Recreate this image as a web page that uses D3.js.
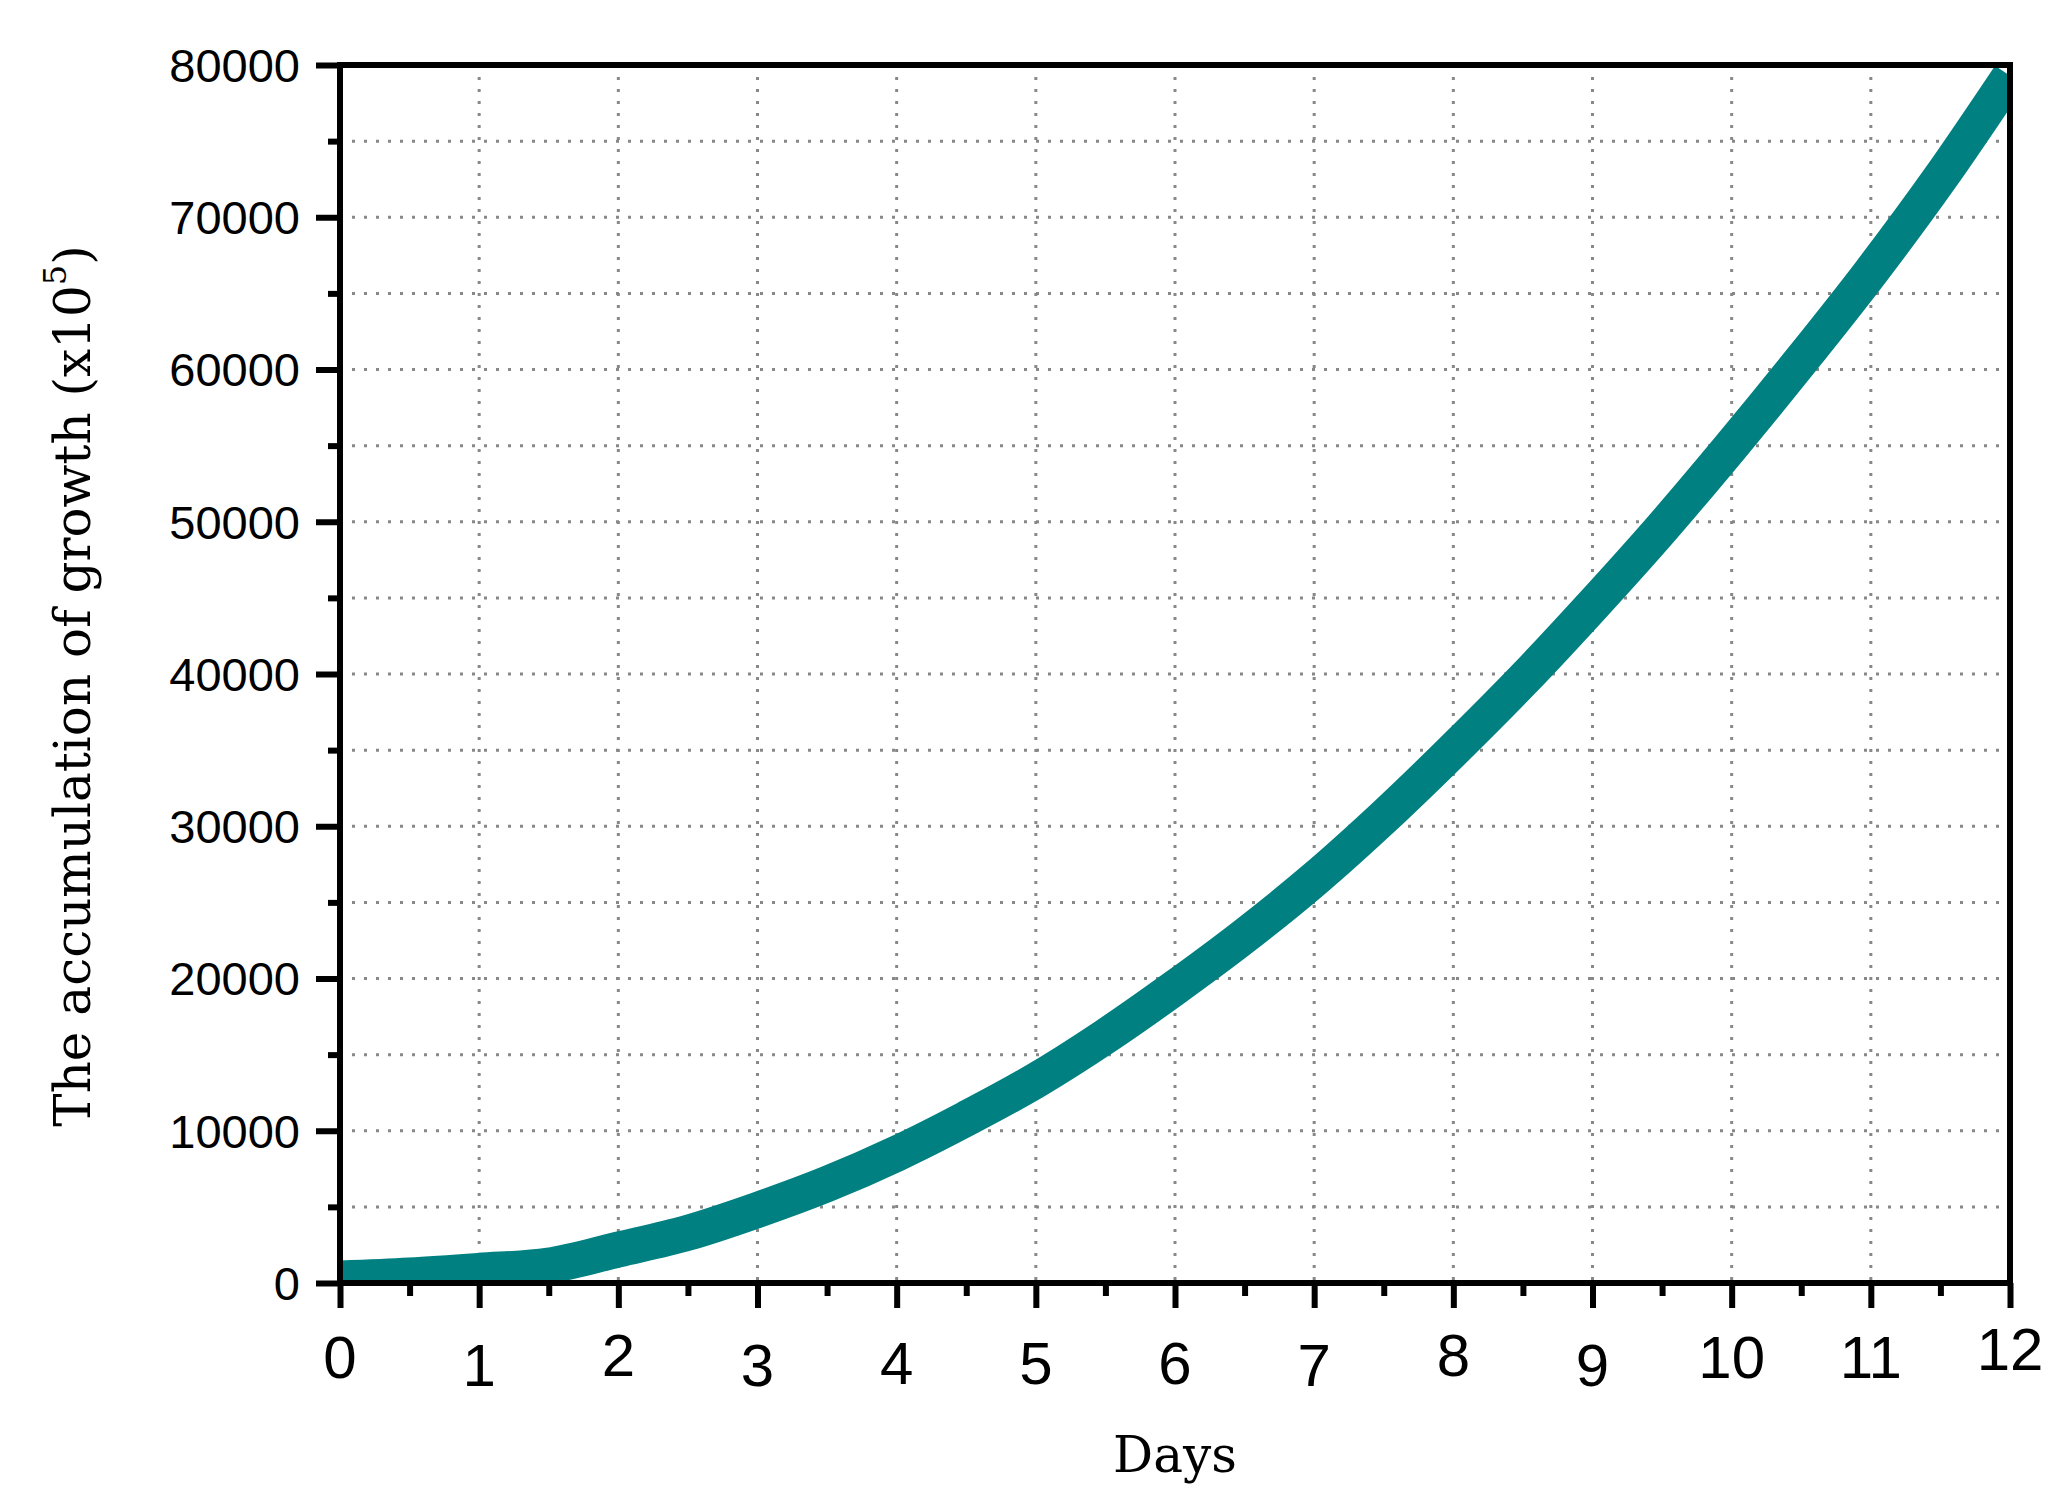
<!DOCTYPE html>
<html><head><meta charset="utf-8">
<script src="https://cdn.jsdelivr.net/npm/d3@7"></script>
<style>body{margin:0;background:#fff}</style></head>
<body><svg id="c" width="2057" height="1511"></svg>
<script>
const days = [0,0.5,1,1.5,2,2.5,3,3.5,4,4.5,5,5.5,6,6.5,7,7.5,8,8.5,9,9.5,10,10.5,11,11.5,12];
const growth = [300,500,800,1150,2200,3300,4800,6500,8500,10800,13300,16200,19400,22800,26500,30600,35000,39600,44500,49600,55000,60600,66400,72600,79300];
const xTicks = [0,1,2,3,4,5,6,7,8,9,10,11,12];
const yTicks = [0,10000,20000,30000,40000,50000,60000,70000,80000];
const xLabelShift = [0,8,-2,8,6,6,6,8,-2,8,0,0,-8];

const L=340,R=2010,T=65,B=1283;
const svg=d3.select("#c");
const x=d3.scaleLinear().domain([0,12]).range([L,R]);
const y=d3.scaleLinear().domain([0,80000]).range([B,T]);

const g=svg.append("g").attr("stroke","#888").attr("stroke-width",3).attr("stroke-dasharray","3,9");
d3.range(5000,80001,5000).forEach(v=>g.append("line").attr("x1",L).attr("x2",R).attr("y1",y(v)).attr("y2",y(v)));
xTicks.slice(1,-1).forEach(v=>g.append("line").attr("x1",x(v)).attr("x2",x(v)).attr("y1",T).attr("y2",B));

svg.append("clipPath").attr("id","cp").append("rect").attr("x",L).attr("y",T-2).attr("width",R-L).attr("height",B-T+2);
svg.append("path").datum(days.map((d,i)=>[d,growth[i]]))
 .attr("clip-path","url(#cp)")
 .attr("d",d3.line().x(d=>x(d[0])).y(d=>y(d[1])).curve(d3.curveMonotoneX))
 .attr("fill","none").attr("stroke","#008080").attr("stroke-width",36);

svg.append("g").attr("transform",`translate(0,${B})`)
 .call(d3.axisBottom(x).tickValues(xTicks).tickSize(25).tickFormat(""));
svg.append("g").attr("transform",`translate(0,${B})`)
 .call(d3.axisBottom(x).tickValues(d3.range(0.5,12,1)).tickSize(13).tickFormat(""));
const ya=svg.append("g").attr("transform",`translate(${L},0)`)
 .call(d3.axisLeft(y).tickValues(yTicks).tickSize(24).tickFormat(d=>d));
svg.append("g").attr("transform",`translate(${L},0)`)
 .call(d3.axisLeft(y).tickValues(d3.range(5000,80000,10000)).tickSize(12).tickFormat(""));
svg.selectAll(".domain").remove();
svg.selectAll(".tick line").attr("stroke","#000").attr("stroke-width",6);
ya.selectAll("text").attr("font-family","Liberation Sans, Arial").attr("font-size",47).attr("fill","#000").attr("x",-40).attr("dy","0.35em");

xTicks.forEach((v,i)=>svg.append("text").attr("x",x(v)).attr("y",B+95+xLabelShift[i])
 .attr("text-anchor","middle").attr("font-family","Liberation Sans, Arial").attr("font-size",60).text(v));

svg.append("rect").attr("x",L).attr("y",T).attr("width",R-L).attr("height",B-T)
 .attr("fill","none").attr("stroke","#000").attr("stroke-width",6);

svg.append("text").attr("x",1175).attr("y",1472).attr("text-anchor","middle")
 .attr("font-family","DejaVu Serif, Liberation Serif").attr("font-size",50).text("Days");
const yt=svg.append("text").attr("transform","translate(90,686) rotate(-90)").attr("text-anchor","middle")
 .attr("font-family","DejaVu Serif, Liberation Serif").attr("font-size",50);
yt.append("tspan").text("The accumulation of growth (x10");
yt.append("tspan").attr("font-size",32).attr("dy",-24).text("5");
yt.append("tspan").attr("dy",24).text(")");
</script></body></html>
